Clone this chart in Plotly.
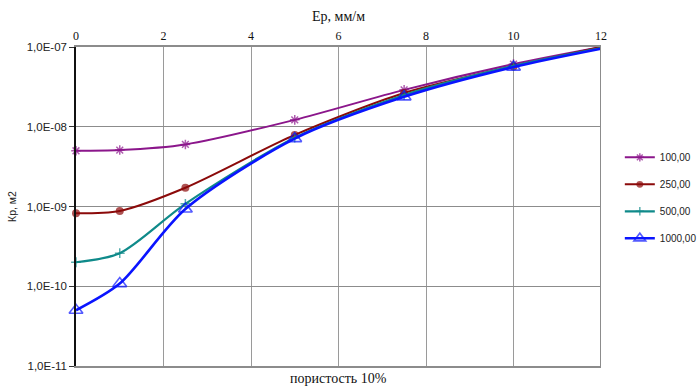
import plotly.graph_objects as go

# Strain Ep, mm/m
ep = [0, 1, 2.5, 5, 7.5, 10, 12]

# Permeability Kp, m2 for each confining pressure
kp_100 = [5.0e-9, 5.1e-9, 6.0e-9, 1.22e-8, 2.9e-8, 6.1e-8, 1.0e-7]
kp_250 = [8.2e-10, 8.8e-10, 1.72e-9, 7.9e-9, 2.65e-8, 5.7e-8, 1.0e-7]
kp_500 = [2.0e-10, 2.6e-10, 1.08e-9, 7.3e-9, 2.5e-8, 5.8e-8, 9.7e-8]
kp_1000 = [5.0e-11, 1.08e-10, 9.3e-10, 7.1e-9, 2.37e-8, 5.6e-8, 9.5e-8]

series_names = ["100,00", "250,00", "500,00", "1000,00"]
y_ticks = [1e-11, 1e-10, 1e-9, 1e-8, 1e-7]
y_tick_text = ["1,0E-11", "1,0E-10", "1,0E-09", "1,0E-08", "1,0E-07"]
x_ticks = [0, 2, 4, 6, 8, 10, 12]

styles = [
    dict(color="#8B168B", width=2, symbol="asterisk-open", size=8, mline=1.5),
    dict(color="#8B0A0A", width=2, symbol="circle", size=8, mline=0),
    dict(color="#0F8A8A", width=2.2, symbol="cross-thin-open", size=7, mline=1.5),
    dict(color="#0A14FF", width=2.6, symbol="triangle-up-open", size=12, mline=1.6),
]

fig = go.Figure()
for i, (name, vals) in enumerate(zip(series_names, [kp_100, kp_250, kp_500, kp_1000])):
    st = styles[i]
    sizes = [st["size"]] * (len(ep) - 1) + [0]
    fig.add_trace(go.Scatter(
        x=ep, y=vals, name=name, mode="lines+markers",
        legendgroup=name,
        line=dict(color=st["color"], width=st["width"], shape="spline", smoothing=0.8),
        marker=dict(symbol=st["symbol"], size=sizes, color=st["color"],
                    line=dict(color=st["color"], width=st["mline"])),
        cliponaxis=False,
    ))

fig.update_layout(
    width=698, height=386,
    margin=dict(l=76, r=97, t=47, b=20, autoexpand=False),
    paper_bgcolor="white", plot_bgcolor="white",
    showlegend=True,
    legend=dict(xref="container", yref="container", x=0.888, y=0.63,
                xanchor="left", yanchor="top",
                font=dict(family="Liberation Sans, Arial", size=10, color="#222"),
                tracegroupgap=8, itemwidth=30, bgcolor="rgba(0,0,0,0)"),
    xaxis=dict(
        side="top", range=[0, 12], tickvals=x_ticks, ticks="",
        tickfont=dict(family="Liberation Serif, Times New Roman", size=12, color="#111"),
        showgrid=True, gridcolor="#9a9a9a", gridwidth=1,
        showline=True, linecolor="#8c8c8c", linewidth=2, mirror=True,
        zeroline=False,
        title=dict(text="Ep, мм/м", standoff=4,
                   font=dict(family="Liberation Serif, Times New Roman", size=14, color="#111")),
    ),
    yaxis=dict(
        type="log", range=[-11, -7], tickvals=y_ticks, ticktext=y_tick_text,
        ticks="outside", ticklen=5, tickcolor="#333",
        tickfont=dict(family="Liberation Sans, Arial", size=11.5, color="#222"),
        showgrid=True, gridcolor="#8c8c8c", gridwidth=1,
        showline=True, linecolor="#111", linewidth=1.5,
        zeroline=False,
        title=dict(text="Кр, м2", standoff=8,
                   font=dict(family="Liberation Sans, Arial", size=10.5, color="#222")),
    ),
    annotations=[
        dict(text="пористость 10%", xref="paper", yref="paper", x=0.5, y=0,
             yshift=-12, xanchor="center", yanchor="middle", showarrow=False,
             font=dict(family="Liberation Serif, Times New Roman", size=14, color="#111")),
    ],
)

# Right border of the plot area
fig.add_shape(type="line", xref="x", yref="paper", x0=12, x1=12, y0=0, y1=1,
              line=dict(color="#8c8c8c", width=2))

fig.write_html("out.html")
